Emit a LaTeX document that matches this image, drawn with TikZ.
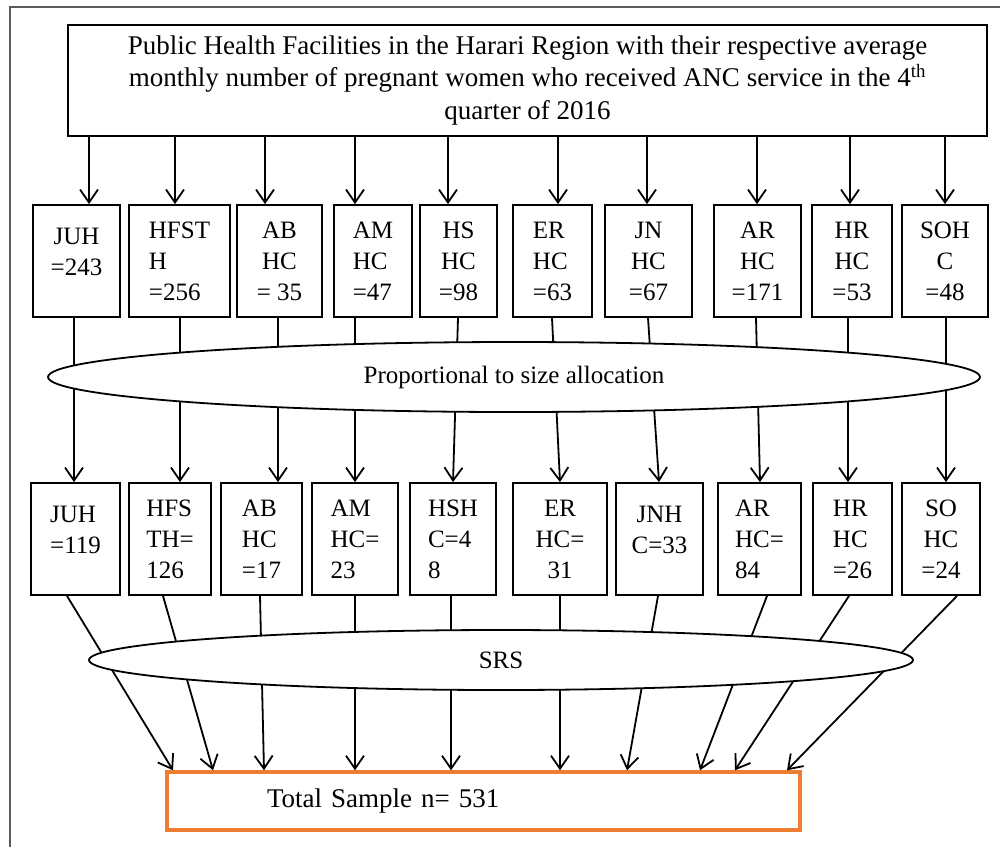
\documentclass[tikz,border=0pt]{standalone}
\usepackage{fontspec}
\setmainfont{Liberation Serif}
\usetikzlibrary{arrows.meta,shapes.geometric}
\definecolor{framegray}{RGB}{90,90,90}
\definecolor{sampleorange}{RGB}{237,125,49}
\begin{document}
\begin{tikzpicture}[x=1pt,y=-1pt,
  fbox/.style={draw, line width=1.8pt, inner sep=0pt, minimum height=112pt,
    font=\fontsize{25}{31}\selectfont},
  conn/.style={line width=1.8pt},
  arr/.style={line width=1.8pt, -{Straight Barb[length=13pt,width=18pt,line width=1.8pt]}},
  oval/.style={ellipse, draw, fill=white, line width=1.8pt, inner sep=0pt,
    font=\fontsize{25}{30}\selectfont}
]
\useasboundingbox (0,0) rectangle (1000,847);
\fill[white] (0,0) rectangle (1000,847);
% outer frame (top and left only visible)
\draw[framegray, line width=1.5pt] (10,847) -- (10,7) -- (1000,7);

% top box
\node[draw, line width=1.8pt, minimum width=919pt, minimum height=111pt, inner sep=0pt,
  align=center, font=\fontsize{27}{32.5}\selectfont] (top) at (527.5,80.5)
  {Public Health Facilities in the Harari Region with their respective average\\
   monthly number of pregnant women who received ANC service in the 4\textsuperscript{th}\\
   quarter of 2016};

% first row
\foreach \n/\cx/\w/\al/\txt in {
  1/76.5/87/center/{JUH\\=243\\[-12pt]\mbox{}},
  2/179.5/101/left/{HFST\\H\\=256},
  3/279.5/85/center/{AB\\HC\\= 35},
  4/373/78/left/{AM\\HC\\=47},
  5/458.5/77/center/{HS\\HC\\=98},
  6/552.5/79/left/{ER\\HC\\=63},
  7/648.5/87/center/{JN\\HC\\=67},
  8/757.5/87/center/{AR\\HC\\=171},
  9/852/80/center/{HR\\HC\\=53},
  10/945/86/center/{SOH\\C\\=48}}
  {\node[fbox, minimum width=\w pt, align=\al] (r\n) at (\cx,261) {\txt};}

% second row
\foreach \n/\cx/\w/\al/\txt in {
  1/75.5/89/left/{JUH\\=119\\[-12pt]\mbox{}},
  2/170/82/left/{HFS\\TH=\\126},
  3/261.5/81/left/{AB\\HC\\=17},
  4/355/86/left/{AM\\HC=\\23},
  5/453/86/left/{HSH\\C=4\\8},
  6/560/94/center/{ER\\HC=\\31},
  7/659.5/87/center/{JNH\\C=33\\[-12pt]\mbox{}},
  8/759.5/83/left/{AR\\HC=\\84},
  9/852.5/79/left/{HR\\HC\\=26},
  10/941/78/center/{SO\\HC\\=24}}
  {\node[fbox, minimum width=\w pt, align=\al] (s\n) at (\cx,539) {\txt};}

% total box
\node[draw=sampleorange, line width=3.5pt, text width=633pt, minimum height=58pt,
  inner xsep=0pt, inner ysep=0pt, align=left, font=\fontsize{27}{32}\selectfont]
  (total) at (483.5,801) {\hspace*{100pt}Total Sample n= 531};

% top box -> first row
\foreach \n/\x in {1/89,2/175,3/265,4/355,5/448,6/558,7/647,8/757,9/850,10/945}
  {\coordinate (ax\n) at (\x,0);
   \draw[arr] (top.south -| ax\n) -- (r\n.north -| ax\n);}

% first row -> second row (through allocation)
\foreach \n/\xs/\xe in {1/74/74,2/180/180,3/278/278,4/355/355,5/458/453,
                        6/552/560,7/648/659,8/756/760,9/848/848,10/946/946}
  {\coordinate (bs\n) at (\xs,0);
   \coordinate (be\n) at (\xe,0);
   \draw[arr] (r\n.south -| bs\n) -- (s\n.north -| be\n);}

% second row -> total (through SRS)
\foreach \n/\xs/\xe in {1/67/173,2/163/213,3/260/264,4/355/355,5/451/451,
                        6/560/560,7/658/627,8/767/700,9/849/735,10/957/787}
  {\coordinate (cs\n) at (\xs,0);
   \coordinate (ce\n) at (\xe,0);
   \draw[arr] (s\n.south -| cs\n) -- (total.north -| ce\n);}

% ellipses drawn over the connectors
\node[oval, minimum width=932pt, minimum height=70pt] (prop) at (514,377)
  {Proportional to size allocation};
\node[oval, minimum width=824pt, minimum height=60pt] (srs) at (501,660) {SRS};
\end{tikzpicture}
\end{document}
